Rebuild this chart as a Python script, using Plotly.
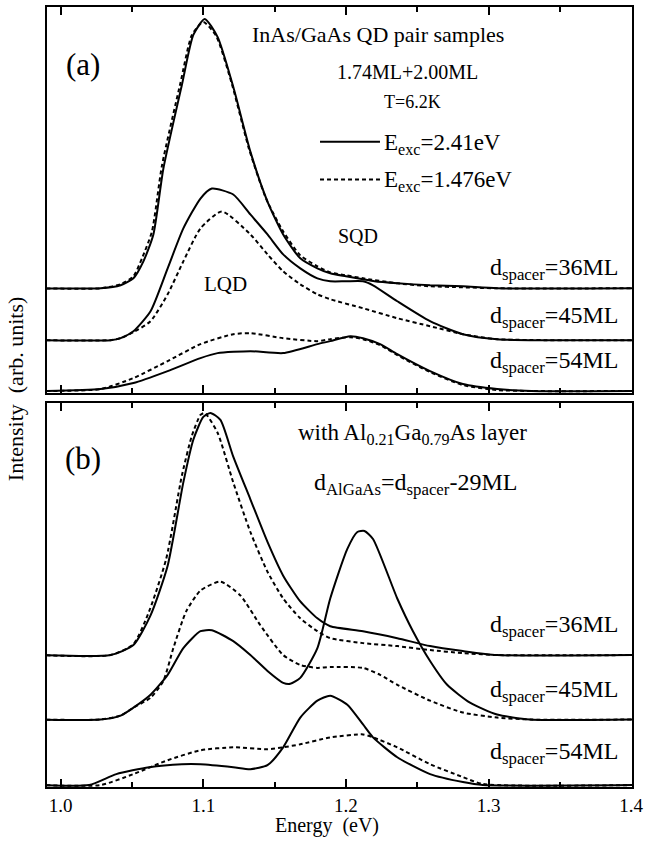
import plotly.graph_objects as go

# ---------------- data (energy in eV, intensity in arb. units) ----------------
# Panel (a): InAs/GaAs QD pair samples
a36_sol_E = [0.985, 1.028, 1.042, 1.051, 1.058, 1.065, 1.072, 1.085, 1.093, 1.101, 1.110, 1.121, 1.133, 1.145,
             1.156, 1.168, 1.180, 1.189, 1.200, 1.212, 1.220, 1.236, 1.259, 1.282, 1.306, 1.405]
a36_sol_I = [103, 103, 106, 113, 130, 157, 223, 307, 357, 373, 355, 305, 240, 190,
             157, 133, 123, 118, 115, 112, 110, 108, 106, 105, 103, 103]
a36_dsh_E = [0.985, 1.028, 1.042, 1.051, 1.057, 1.064, 1.071, 1.084, 1.092, 1.100, 1.109, 1.120, 1.132, 1.144,
             1.156, 1.168, 1.180, 1.189, 1.200, 1.212, 1.236, 1.259, 1.282, 1.306, 1.405]
a36_dsh_I = [103, 103, 107, 115, 133, 160, 226, 309, 357, 370, 356, 308, 243, 193,
             160, 136, 125, 119, 116, 113, 108, 105, 104, 103, 103]

a45_sol_E = [0.985, 1.035, 1.042, 1.051, 1.063, 1.075, 1.086, 1.098, 1.106, 1.121, 1.133, 1.145, 1.156,
             1.168, 1.180, 1.189, 1.200, 1.212, 1.219, 1.236, 1.259, 1.282, 1.306, 1.405]
a45_sol_I = [51, 51, 53, 60, 80, 123, 163, 193, 203, 197, 177, 157, 137,
             123, 113, 110, 110, 110, 106, 90, 70, 57, 52, 51]
a45_dsh_E = [0.985, 1.035, 1.042, 1.051, 1.063, 1.075, 1.086, 1.098, 1.113, 1.133, 1.145, 1.156, 1.168,
             1.180, 1.189, 1.212, 1.236, 1.259, 1.282, 1.306, 1.405]
a45_dsh_I = [51, 51, 53, 59, 70, 97, 130, 163, 180, 157, 137, 120, 107,
             97, 92, 83, 73, 65, 57, 52, 51]

a54_sol_E = [0.985, 1.028, 1.051, 1.075, 1.098, 1.110, 1.133, 1.156, 1.180, 1.189, 1.203, 1.212, 1.224,
             1.236, 1.259, 1.282, 1.306, 1.330, 1.405]
a54_sol_I = [0, 2, 8, 20, 33, 38, 40, 38, 47, 50, 55, 53, 47,
             37, 20, 7, 2, 0, 0]
a54_dsh_E = [0.985, 1.028, 1.051, 1.075, 1.098, 1.121, 1.133, 1.156, 1.180, 1.189, 1.203, 1.212, 1.224,
             1.236, 1.259, 1.282, 1.306, 1.330, 1.405]
a54_dsh_I = [0, 2, 13, 30, 47, 57, 58, 53, 50, 52, 54, 52, 46,
             36, 19, 6, 1, 0, 0]

# Panel (b): with Al0.21Ga0.79As layer
b36_sol_E = [0.985, 1.035, 1.051, 1.063, 1.075, 1.086, 1.093, 1.100, 1.105, 1.112, 1.121, 1.133, 1.145,
             1.156, 1.168, 1.180, 1.189, 1.212, 1.236, 1.259, 1.282, 1.306, 1.405]
b36_sol_I = [131, 131, 141, 171, 221, 305, 348, 371, 375, 368, 331, 288, 245,
             211, 185, 168, 160, 155, 148, 140, 135, 131, 131]
b36_dsh_E = [0.985, 1.035, 1.051, 1.062, 1.074, 1.085, 1.092, 1.098, 1.101, 1.110, 1.121, 1.133, 1.145,
             1.156, 1.168, 1.180, 1.189, 1.212, 1.236, 1.259, 1.282, 1.306, 1.405]
b36_dsh_I = [131, 131, 142, 175, 228, 312, 352, 373, 375, 355, 305, 255, 215,
             188, 168, 155, 148, 143, 140, 136, 133, 131, 131]

b45_sol_E = [0.985, 1.028, 1.042, 1.051, 1.063, 1.075, 1.086, 1.098, 1.106, 1.121, 1.133, 1.145, 1.156,
             1.161, 1.168, 1.180, 1.189, 1.201, 1.208, 1.213, 1.219, 1.236, 1.247, 1.259, 1.271, 1.287,
             1.306, 1.329, 1.405]
b45_sol_I = [66, 66, 70, 78, 91, 111, 138, 155, 156, 145, 131, 115, 103,
             102, 108, 138, 188, 238, 255, 256, 248, 188, 155, 125, 101, 83,
             71, 66, 66]
b45_dsh_E = [0.985, 1.028, 1.042, 1.051, 1.063, 1.072, 1.079, 1.088, 1.098, 1.112, 1.126, 1.140, 1.156,
             1.168, 1.180, 1.189, 1.212, 1.224, 1.236, 1.259, 1.282, 1.306, 1.330, 1.405]
b45_dsh_I = [66, 66, 70, 78, 88, 105, 138, 175, 196, 205, 191, 161, 131,
             121, 118, 119, 118, 111, 101, 85, 73, 68, 66, 66]

b54_sol_E = [0.985, 1.020, 1.039, 1.062, 1.085, 1.098, 1.121, 1.133, 1.145, 1.156, 1.168, 1.180, 1.189,
             1.201, 1.212, 1.219, 1.236, 1.259, 1.282, 1.296, 1.405]
b54_sol_I = [0, 0, 11, 18, 21, 21, 18, 16, 20, 38, 68, 85, 90,
             81, 61, 48, 28, 11, 3, 0, 0]
b54_dsh_E = [0.985, 1.028, 1.051, 1.075, 1.098, 1.121, 1.145, 1.156, 1.168, 1.189, 1.212, 1.219, 1.236,
             1.259, 1.282, 1.296, 1.405]
b54_dsh_I = [0, 0, 11, 25, 35, 38, 36, 38, 41, 48, 51, 48, 38,
             21, 8, 1, 0]

x_ticks = [1.0, 1.1, 1.2, 1.3, 1.4]
x_tick_labels = ["1.0", "1.1", "1.2", "1.3", "1.4"]

# ---------------- figure ----------------
FONT = "Liberation Serif, Times New Roman, serif"
fig = go.Figure()

def add(E, I, dashed, xa, ya):
    fig.add_trace(go.Scatter(
        x=E, y=I, mode="lines", xaxis=xa, yaxis=ya, showlegend=False,
        line=dict(color="black", width=2, dash="4px,3px" if dashed else "solid",
                  shape="spline", smoothing=0.6),
        hoverinfo="skip"))

for E, I, d in [(a36_sol_E, a36_sol_I, False), (a36_dsh_E, a36_dsh_I, True),
                (a45_sol_E, a45_sol_I, False), (a45_dsh_E, a45_dsh_I, True),
                (a54_sol_E, a54_sol_I, False), (a54_dsh_E, a54_dsh_I, True)]:
    add(E, I, d, "x2", "y2")
for E, I, d in [(b36_sol_E, b36_sol_I, False), (b36_dsh_E, b36_dsh_I, True),
                (b45_sol_E, b45_sol_I, False), (b45_dsh_E, b45_dsh_I, True),
                (b54_sol_E, b54_sol_I, False), (b54_dsh_E, b54_dsh_I, True)]:
    add(E, I, d, "x", "y")

XR = [0.9904, 1.4006]
common_x = dict(range=XR, tickvals=x_ticks, ticktext=x_tick_labels, ticks="inside", ticklen=8,
                tickwidth=1.5, tickcolor="black", showline=True, linewidth=2, linecolor="black",
                mirror="allticks", showgrid=False, zeroline=False,
                minor=dict(tickvals=[1.05, 1.15, 1.25, 1.35], ticks="inside", ticklen=5,
                           tickwidth=1.5, tickcolor="black", showgrid=False))
common_y = dict(range=[-2, 385], showticklabels=False, ticks="", showline=True, linewidth=2,
                linecolor="black", mirror=True, showgrid=False, zeroline=False)

fig.update_layout(
    width=657, height=848,
    margin=dict(l=47, r=25, t=5, b=61),
    paper_bgcolor="white", plot_bgcolor="white",
    font=dict(family=FONT, color="black"),
    xaxis=dict(**common_x, anchor="y", tickfont=dict(family=FONT, size=19), ticklabelstandoff=0),
    xaxis2=dict(**common_x, anchor="y2", showticklabels=False, matches="x"),
    yaxis=dict(**common_y, domain=[0, 0.4923], anchor="x"),
    yaxis2=dict(**common_y, domain=[0.5051, 1.0], anchor="x2"),
)

def ann(text, x, y, size, xanchor="center", **kw):
    fig.add_annotation(text=text, x=x, y=y, xref="paper", yref="paper", showarrow=False,
                       xanchor=xanchor, yanchor="middle", font=dict(family=FONT, size=size, color="black"),
                       **kw)

XR_LBL = 0.9795
# panel (a)
ann("(a)", 0.0615, 0.9258, 31)
ann("InAs/GaAs QD pair samples", 0.5658, 0.9642, 22)
ann("1.74ML+2.00ML", 0.6165, 0.9169, 20)
ann("T=6.2K", 0.6256, 0.8785, 18)
ann("E<sub>exc</sub>=2.41eV", 0.5726, 0.8250, 23, xanchor="left")
ann("E<sub>exc</sub>=1.476eV", 0.5726, 0.7770, 23, xanchor="left")
ann("SQD", 0.5316, 0.7059, 20)
ann("LQD", 0.3043, 0.6445, 21)
ann("d<sub>spacer</sub>=36ML", XR_LBL, 0.6640, 24, xanchor="right")
ann("d<sub>spacer</sub>=45ML", XR_LBL, 0.6030, 24, xanchor="right")
ann("d<sub>spacer</sub>=54ML", XR_LBL, 0.5450, 24, xanchor="right")
# legend samples
fig.add_shape(type="line", xref="paper", yref="paper", x0=0.4667, x1=0.5692, y0=0.8274, y1=0.8274,
              line=dict(color="black", width=2))
fig.add_shape(type="line", xref="paper", yref="paper", x0=0.4667, x1=0.5692, y0=0.7788, y1=0.7788,
              line=dict(color="black", width=2, dash="4px,3px"))
# panel (b)
ann("(b)", 0.0615, 0.4207, 31)
ann("with Al<sub>0.21</sub>Ga<sub>0.79</sub>As layer", 0.6256, 0.4530, 23)
ann("d<sub>AlGaAs</sub>=d<sub>spacer</sub>-29ML", 0.6291, 0.3890, 24)
ann("d<sub>spacer</sub>=36ML", XR_LBL, 0.2070, 24, xanchor="right")
ann("d<sub>spacer</sub>=45ML", XR_LBL, 0.1230, 24, xanchor="right")
ann("d<sub>spacer</sub>=54ML", XR_LBL, 0.0440, 24, xanchor="right")
# axis titles
ann("Energy  (eV)", 0.4786, -0.0490, 20)
fig.add_annotation(text="Intensity  (arb. units)", x=-0.0547, y=0.510, xref="paper", yref="paper",
                   showarrow=False, textangle=-90, xanchor="center", yanchor="middle",
                   font=dict(family=FONT, size=22, color="black"))

fig.write_html("out.html", post_script="document.body.style.margin='0px';",
               config={"displayModeBar": False})
